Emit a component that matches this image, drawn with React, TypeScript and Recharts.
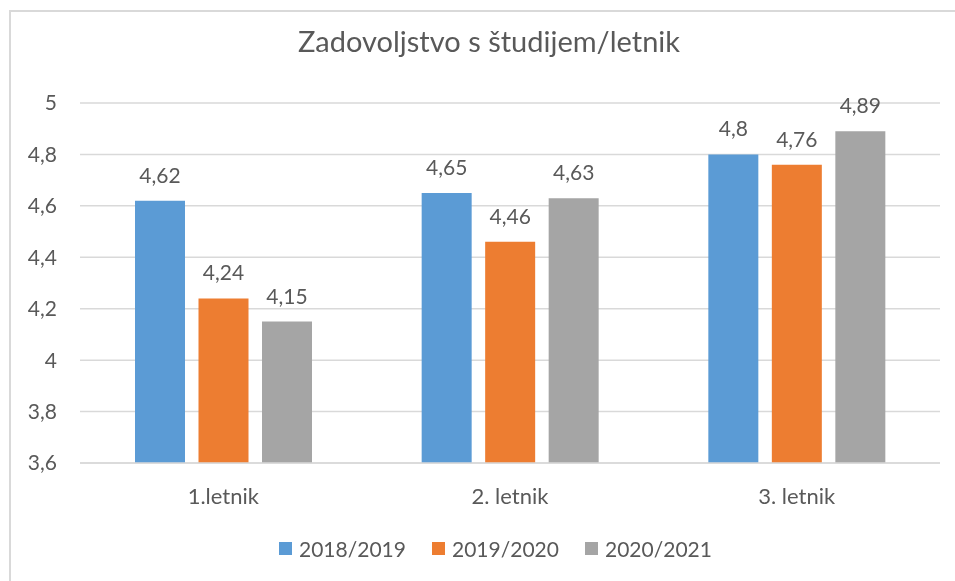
import React from 'react';
import { BarChart, Bar, XAxis, YAxis, CartesianGrid, LabelList } from 'recharts';

const categories = ['1.letnik', '2. letnik', '3. letnik'];
const series2018 = [4.62, 4.65, 4.8];
const series2019 = [4.24, 4.46, 4.76];
const series2020 = [4.15, 4.63, 4.89];
const seriesNames = ['2018/2019', '2019/2020', '2020/2021'];
const seriesColors = ['#5B9BD5', '#ED7D31', '#A5A5A5'];
const yTicks = [3.6, 3.8, 4, 4.2, 4.4, 4.6, 4.8, 5];
const title = 'Zadovoljstvo s študijem/letnik';

const data = categories.map((c, i) => ({
  name: c,
  s0: series2018[i],
  s1: series2019[i],
  s2: series2020[i],
}));

const FONT = 'Lato, Carlito, Calibri, sans-serif';
const TEXT = '#595959';
const fmt = (v: any) => String(v).replace('.', ',');

export default function App() {
  const W = 939;
  const H = 565;
  return (
    <div style={{ position: 'relative', width: W, height: H }}>
      <div
        style={{
          position: 'fixed',
          left: 9,
          top: 10,
          width: 946,
          height: 571,
          borderTop: '2px solid #D9D9D9',
          borderLeft: '2px solid #D9D9D9',
          boxSizing: 'border-box',
          pointerEvents: 'none',
        }}
      />
      <BarChart
        width={W}
        height={H}
        data={data}
        margin={{ top: 95, right: 7, bottom: 80, left: 0 }}
        barSize={50}
        barGap={13.5}
      >
        <CartesianGrid vertical={false} stroke="#D9D9D9" strokeWidth={1.5} />
        <XAxis
          dataKey="name"
          height={30}
          axisLine={{ stroke: '#D9D9D9', strokeWidth: 1.5 }}
          tickLine={false}
          tickSize={0}
          tickMargin={25}
          tick={{ fill: TEXT, fontSize: 22, fontFamily: FONT }}
        />
        <YAxis
          width={72}
          domain={[3.6, 5]}
          ticks={yTicks}
          interval={0}
          axisLine={false}
          tickLine={false}
          tickSize={0}
          tickMargin={23}
          tickFormatter={fmt}
          tick={{ fill: TEXT, fontSize: 21, fontFamily: FONT }}
        />
        {['s0', 's1', 's2'].map((k, i) => (
          <Bar key={k} dataKey={k} name={seriesNames[i]} fill={seriesColors[i]} isAnimationActive={false}>
            <LabelList
              dataKey={k}
              position="top"
              offset={18}
              formatter={fmt}
              style={{ fill: TEXT, fontSize: 21, fontFamily: FONT }}
            />
          </Bar>
        ))}
      </BarChart>
      <div
        style={{
          position: 'absolute',
          left: 271,
          top: 530,
          display: 'flex',
          alignItems: 'center',
        }}
      >
        {seriesNames.map((n, i) => (
          <div key={n} style={{ width: 153, display: 'flex', alignItems: 'center' }}>
            <div style={{ width: 13, height: 13, background: seriesColors[i], marginRight: 7 }} />
            <span style={{ fontFamily: FONT, fontSize: 21, color: TEXT, lineHeight: 1 }}>{n}</span>
          </div>
        ))}
      </div>
      <svg
        width={W}
        height={80}
        style={{ position: 'absolute', left: 0, top: 0, pointerEvents: 'none' }}
      >
        <text x={481} y={44} textAnchor="middle" fontFamily={FONT} fontSize={29} fill={TEXT}>
          {title}
        </text>
      </svg>
    </div>
  );
}
